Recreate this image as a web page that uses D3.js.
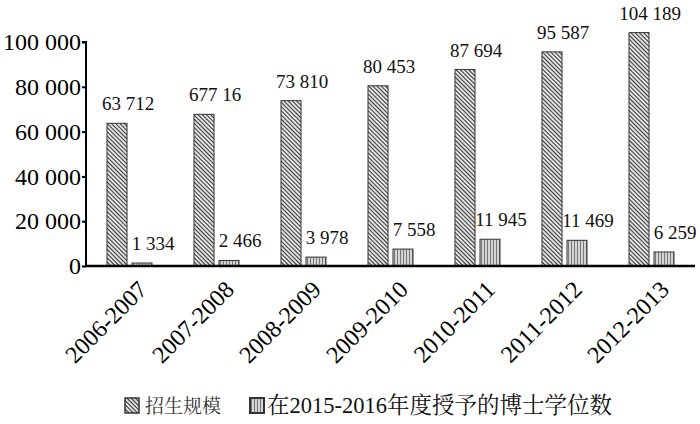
<!DOCTYPE html>
<html>
<head>
<meta charset="utf-8">
<script src="https://cdn.jsdelivr.net/npm/d3@7/dist/d3.min.js"></script>
</head>
<body style="margin:0">
<svg id="chart" width="700" height="424"></svg>
<script>
const categories = ["2006-2007", "2007-2008", "2008-2009", "2009-2010", "2010-2011", "2011-2012", "2012-2013"];
const seriesNames = ["招生规模", "在2015-2016年度授予的博士学位数"];
const enrollment = [63712, 67716, 73810, 80453, 87694, 95587, 104189];
const degrees = [1334, 2466, 3978, 7558, 11945, 11469, 6259];
const enrollmentLabels = ["63 712", "677 16", "73 810", "80 453", "87 694", "95 587", "104 189"];
const degreeLabels = ["1 334", "2 466", "3 978", "7 558", "11 945", "11 469", "6 259"];
const yTicks = [0, 20000, 40000, 60000, 80000, 100000];
const yTickLabels = ["0", "20 000", "40 000", "60 000", "80 000", "100 000"];

const svg = d3.select("#chart");
const SERIF = '"Liberation Serif", "Tinos", "Times New Roman"';
const LEG = '"Liberation Serif", "Tinos", "Noto Serif CJK SC"';
const bgFill = ["#e4e4e4", "#d4d4d4"];

function hatchSegs(x0, y0, w, h, type) {
  const segs = [];
  const x1 = x0 + w, y1 = y0 + h;
  if (type === 1) {
    for (let xx = x0 + 1.5; xx < x1; xx += 3) segs.push([xx, y0, xx, y1]);
  } else {
    const step = 4.2;
    for (let c = x0 - y1; c < x1 - y0; c += step) {
      const ya = Math.max(y0, x0 - c), yb = Math.min(y1, x1 - c);
      if (yb > ya) segs.push([ya + c, ya, yb + c, yb]);
    }
  }
  return segs;
}
function drawHatchedRect(g, x0, y0, w, h, type, sw) {
  g.append("rect").attr("x", x0).attr("y", y0).attr("width", w).attr("height", h).attr("fill", bgFill[type]);
  g.append("g").selectAll("line").data(hatchSegs(x0, y0, w, h, type)).join("line")
    .attr("x1", d => d[0]).attr("y1", d => d[1]).attr("x2", d => d[2]).attr("y2", d => d[3])
    .attr("stroke", type === 0 ? "#444" : "#777").attr("stroke-width", type === 0 ? 1.1 : 1);
  g.append("rect").attr("x", x0).attr("y", y0).attr("width", w).attr("height", h)
    .attr("fill", "none").attr("stroke", "#333").attr("stroke-width", sw);
}

const x = d3.scaleBand().domain(categories).range([86, 695]).padding(0);
const x1 = d3.scaleBand().domain([0, 1])
  .range([x.bandwidth() / 2 - 22.5, x.bandwidth() / 2 + 22.5]).paddingInner(0.2);
const y = d3.scaleLinear().domain([0, 100000]).range([266, 42]);

const data = [];
categories.forEach((c, i) => {
  data.push({ cat: c, s: 0, v: enrollment[i], label: enrollmentLabels[i] });
  data.push({ cat: c, s: 1, v: degrees[i], label: degreeLabels[i] });
});

const barsG = svg.append("g");
data.forEach(d => {
  const bx = x(d.cat) + x1(d.s);
  drawHatchedRect(barsG, bx, y(d.v), x1.bandwidth(), y(0) - y(d.v), d.s, 1);
});

// Y axis (ticks and line)
const yAxis = d3.axisLeft(y).tickValues(yTicks)
  .tickFormat((d, i) => yTickLabels[i]).tickSize(4).tickPadding(1);
const gy = svg.append("g").attr("transform", "translate(86,0)").call(yAxis);
gy.attr("font-family", SERIF).attr("font-size", 24);
gy.select(".domain").attr("stroke", "#000").attr("stroke-width", 2).attr("d", `M-4,${y(100000)}H0V${y(0)}`);
gy.selectAll(".tick line").attr("stroke", "#000").attr("stroke-width", 2);
gy.selectAll(".tick text").style("font-family", SERIF).style("font-size", "24px").attr("fill", "#000");

// X axis
const xAxis = d3.axisBottom(x).tickSize(0).tickPadding(0);
const gx = svg.append("g").attr("transform", `translate(0,${y(0)})`).call(xAxis);
gx.attr("font-family", SERIF).attr("font-size", 24);
gx.select(".domain").attr("stroke", "#000").attr("stroke-width", 2.5).attr("d", "M85,0H695");
gx.selectAll(".tick text")
  .style("font-family", SERIF).style("font-size", "24px").attr("fill", "#000")
  .attr("text-anchor", "end")
  .attr("dy", 0)
  .attr("transform", "translate(19,25) rotate(-45)")
  .attr("x", 0).attr("y", 0);

// Value labels, appended directly to the svg
data.forEach(d => {
  svg.append("text")
    .attr("x", x(d.cat) + x1(d.s) + x1.bandwidth() / 2 + 11)
    .attr("y", y(d.v) - 13)
    .attr("text-anchor", "middle")
    .style("font-family", SERIF)
    .attr("font-size", 19)
    .attr("fill", "#111")
    .text(d.label);
});

// Legend
const legendItems = [
  { sx: 125, tx: 145, size: 19, sw: 1.5 },
  { sx: 250, tx: 267, size: 22.5, sw: 2 }
];
legendItems.forEach((it, i) => {
  drawHatchedRect(svg, it.sx, 398, 14, 15, i, it.sw);
  svg.append("text").attr("x", it.tx).attr("y", 413)
    .style("font-family", LEG)
    .attr("font-size", it.size).attr("fill", i === 0 ? "#333" : "#111")
    .text(seriesNames[i]);
});
</script>
</body>
</html>
